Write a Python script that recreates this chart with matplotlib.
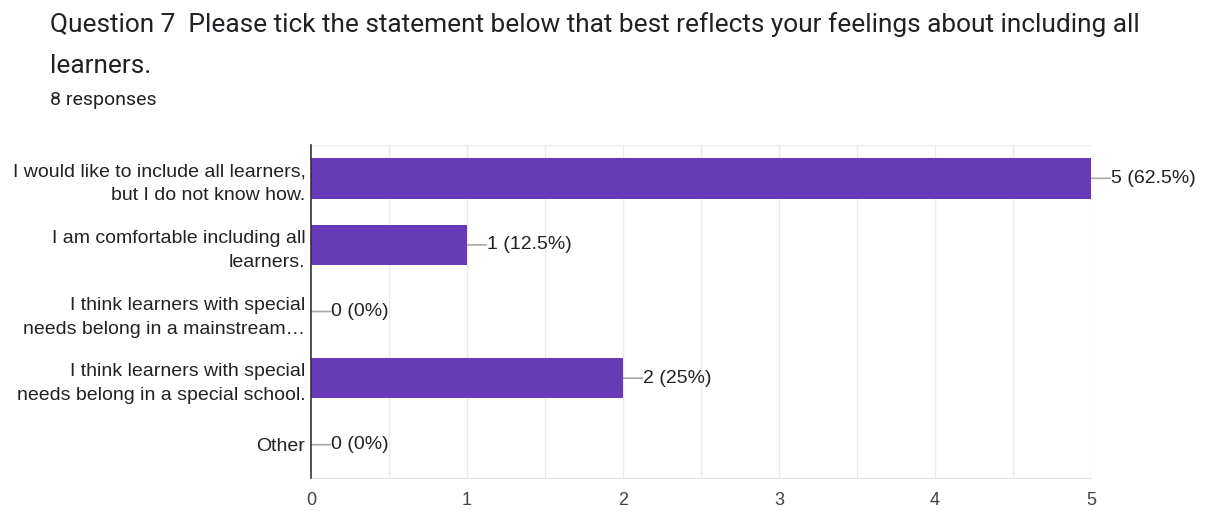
import matplotlib
matplotlib.use("Agg")
import matplotlib.pyplot as plt

categories = [
    "I would like to include all learners,\nbut I do not know how.",
    "I am comfortable including all\nlearners.",
    "I think learners with special\nneeds belong in a mainstream\u2026",
    "I think learners with special\nneeds belong in a special school.",
    "Other",
]
counts = [5, 1, 0, 2, 0]
percents = ["62.5%", "12.5%", "0%", "25%", "0%"]
xticks = [0, 1, 2, 3, 4, 5]

title_line1 = "Question 7  Please tick the statement below that best reflects your feelings about including all"
title_line2 = "learners."
subtitle = "8 responses"

BAR = "#673ab7"
TXT = "#222222"

fig = plt.figure(figsize=(12.05, 5.11), dpi=100)
ax = fig.add_axes([311 / 1205, 1 - 478 / 511, 780 / 1205, 333 / 511])

y = list(range(len(categories)))
ax.barh(y, counts, height=0.61, color=BAR, zorder=3)
ax.set_ylim(len(categories) - 0.5, -0.5)
ax.set_xlim(0, 5)

# grid at 0.5 intervals
for gx in [i * 0.5 for i in range(1, 11)]:
    ax.axvline(gx, color="#ebebeb", lw=1, zorder=1)
ax.axhline(-0.5, color="#ebebeb", lw=1, zorder=1)

for s in ["top", "right"]:
    ax.spines[s].set_visible(False)
ax.spines["bottom"].set_color("#e6e6e6")
ax.spines["left"].set_color("#333333")
ax.spines["left"].set_linewidth(1.2)
ax.spines["left"].set_zorder(4)

ax.set_yticks(y)
ax.set_yticklabels(categories, fontsize=14, family="Liberation Sans", color=TXT,
                   linespacing=1.55)
ax.set_xticks(xticks)
ax.set_xticklabels([str(t) for t in xticks], fontsize=13, family="Liberation Sans", color="#444444")
ax.tick_params(axis="y", length=0, pad=4)
ax.tick_params(axis="x", length=0, pad=10)

for yi, c, p in zip(y, counts, percents):
    ax.annotate("", xy=(c, yi), xycoords="data", xytext=(14, 0), textcoords="offset points",
                arrowprops=dict(arrowstyle="-", color="#aaaaaa", lw=1.2, shrinkA=0, shrinkB=0),
                zorder=2)
    ax.annotate(f"{c} ({p})", xy=(c, yi), xycoords="data", xytext=(14.2, 0),
                textcoords="offset points", ha="left", va="center",
                fontsize=14, family="Liberation Sans", color=TXT)

fig.text(50 / 1205, 1 - 25 / 511, title_line1, fontsize=18.9, family="Roboto", color="#202124",
         va="center", ha="left")
fig.text(50 / 1205, 1 - 66 / 511, title_line2, fontsize=18.9, family="Roboto", color="#202124",
         va="center", ha="left")
fig.text(50 / 1205, 1 - 100 / 511, subtitle, fontsize=14, family="Roboto", color="#202124",
         va="center", ha="left")

fig.savefig("out.png", dpi=100, facecolor="white")
